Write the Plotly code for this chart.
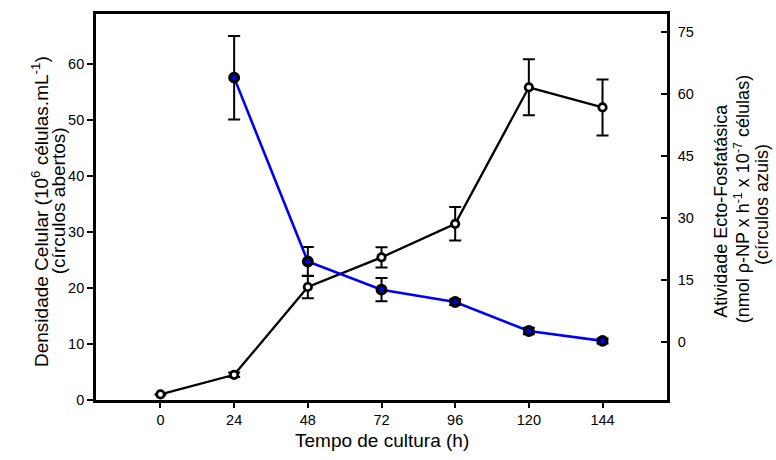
import plotly.graph_objects as go

# ---- data ----
time_h = [0, 24, 48, 72, 96, 120, 144]
cell_density = [1.0, 4.5, 20.2, 25.5, 31.5, 55.9, 52.3]
cell_density_err = [0.0, 0.4, 2.0, 1.8, 3.0, 5.0, 5.0]

time_act = [24, 48, 72, 96, 120, 144]
activity = [64.0, 19.5, 12.7, 9.7, 2.7, 0.3]
activity_err = [10.1, 3.5, 2.8, 0.7, 0.8, 0.6]

x_ticks = [0, 24, 48, 72, 96, 120, 144]
y_left_ticks = [0, 10, 20, 30, 40, 50, 60]
y_right_ticks = [0, 15, 30, 45, 60, 75]

FONT = "Liberation Sans, Arial, sans-serif"

fig = go.Figure()

fig.add_trace(go.Scatter(
    x=time_h, y=cell_density, mode="lines+markers",
    line=dict(color="black", width=2.3),
    marker=dict(symbol="circle", size=7.5, color="white",
                line=dict(color="black", width=2.7)),
    error_y=dict(type="data", array=cell_density_err, visible=True,
                 color="black", thickness=2, width=6),
    yaxis="y", showlegend=False,
))

fig.add_trace(go.Scatter(
    x=time_act, y=activity, mode="lines+markers",
    line=dict(color="#0000FF", width=2.6),
    marker=dict(symbol="circle", size=8.5, color="#0000FF",
                line=dict(color="black", width=3.4)),
    error_y=dict(type="data", array=activity_err, visible=True,
                 color="black", thickness=2, width=6),
    yaxis="y2", showlegend=False,
))

axis_common = dict(showgrid=False, zeroline=False, showline=True,
                   linecolor="black", linewidth=2.7,
                   tickfont=dict(family=FONT, size=14.5, color="black"),
                   tickcolor="black", tickwidth=1.5)

fig.update_layout(
    width=776, height=460,
    margin=dict(l=96, r=109, t=11, b=60),
    paper_bgcolor="white", plot_bgcolor="white",
    font=dict(family=FONT, color="black"),
    xaxis=dict(range=[-21, 165], tickvals=x_ticks, ticks="outside",
               ticklen=5, mirror=True, **axis_common),
    yaxis=dict(range=[0, 69], tickvals=y_left_ticks, ticks="outside",
               ticklen=6, **axis_common),
    yaxis2=dict(range=[-14, 79.4], tickvals=y_right_ticks, ticks="inside",
                ticklen=6, overlaying="y", side="right",
                ticklabelstandoff=5, **axis_common),
)

TF18 = dict(family=FONT, size=18, color="black")
TF19 = dict(family=FONT, size=19, color="black")
ann = [
    dict(text="Tempo de cultura (h)", x=0.5, y=-0.105, textangle=0, font=TF19),
    dict(text="Densidade Celular (10<sup>6</sup> células.mL<sup>-1</sup>)",
         x=(40 - 96) / 571, y=0.487, textangle=-90, font=TF19),
    dict(text="(círculos abertos)", x=(58 - 96) / 571, y=0.515, textangle=-90, font=TF19),
    dict(text="Atividade Ecto-Fosfatásica", x=(721 - 96) / 571, y=0.49,
         textangle=-90, font=TF18),
    dict(text="(nmol ρ-NP x h<sup>-1</sup> x 10<sup>-7</sup> células)",
         x=(742 - 96) / 571, y=0.52, textangle=-90, font=TF18),
    dict(text="(círculos azuis)", x=(762 - 96) / 571, y=0.505, textangle=-90, font=TF18),
]
for a in ann:
    fig.add_annotation(xref="paper", yref="paper", showarrow=False,
                       xanchor="center", yanchor="middle", **a)

fig.write_html("out.html")
